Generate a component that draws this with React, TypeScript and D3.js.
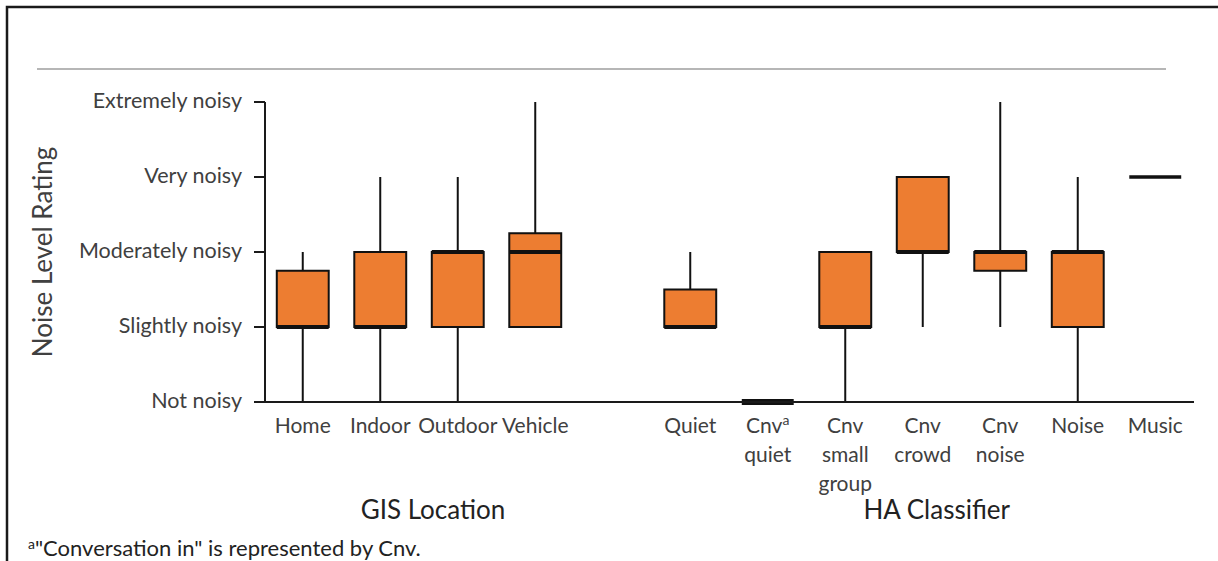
import React from "react";
import * as d3 from "d3";

// Y axis rating labels (0 = Not noisy ... 4 = Extremely noisy)
const ratingLabels = ["Not noisy", "Slightly noisy", "Moderately noisy", "Very noisy", "Extremely noisy"];

// Groups and categories
const gisCategories = ["Home", "Indoor", "Outdoor", "Vehicle"];
const haCategories = ["Quiet", "Cnv quiet", "Cnv small group", "Cnv crowd", "Cnv noise", "Noise", "Music"];
const groupNames = ["GIS Location", "HA Classifier"];

// Label lines for each category (superscript marked with ^)
const categoryLabelLines: string[][] = [
  ["Home"], ["Indoor"], ["Outdoor"], ["Vehicle"],
  ["Quiet"], ["Cnv^a", "quiet"], ["Cnv", "small", "group"], ["Cnv", "crowd"], ["Cnv", "noise"], ["Noise"], ["Music"],
];

// Box plot statistics (ratings), same order as gisCategories + haCategories
const catMin = [0, 0, 0, 1, 1, 0, 0, 1, 1, 0, 3];
const catQ1 = [1, 1, 1, 1, 1, 0, 1, 2, 1.75, 1, 3];
const catMedian = [1, 1, 2, 2, 1, 0, 1, 2, 2, 2, 3];
const catQ3 = [1.75, 2, 2, 2.25, 1.5, 0, 2, 3, 2, 2, 3];
const catMax = [2, 3, 3, 4, 2, 0, 2, 3, 4, 3, 3];

const footnote = "\"Conversation in\" is represented by Cnv.";
const yTitle = "Noise Level Rating";

const FONT = "Lato, 'Open Sans', sans-serif";
const ORANGE = "#ED7D31";
const TEXT = "#404040";

export default function App() {
  const W = 1218, H = 561;
  const allCats = [...gisCategories, "__gap__", ...haCategories];
  const dataCats = [...gisCategories, ...haCategories];
  const x = d3.scaleBand<string>().domain(allCats).range([264, 1194]).paddingInner(0.33).paddingOuter(0.165);
  const y = d3.scaleLinear().domain([0, 4]).range([402, 102]);
  const bw = x.bandwidth();
  const cx = (c: string) => (x(c) as number) + bw / 2;

  const groupCenter = (cats: string[]) => (cx(cats[0]) + cx(cats[cats.length - 1])) / 2 + 14;

  const renderLabel = (line: string) => {
    const idx = line.indexOf("^");
    if (idx < 0) return line;
    return (
      <>
        {line.slice(0, idx)}
        <tspan fontSize={14} dy={-8}>{line.slice(idx + 1)}</tspan>
      </>
    );
  };

  return (
    <svg width={W} height={H} style={{ position: "absolute", left: 0, top: 0, background: "#fff" }} fontFamily={FONT}>
      {/* frame */}
      <rect x={7} y={7} width={W + 20} height={H + 20} fill="none" stroke="#1a1a1a" strokeWidth={2.5} />
      {/* top rule */}
      <line x1={37} x2={1166} y1={69} y2={69} stroke="#6f6f6f" strokeWidth={1.2} />

      {/* y axis */}
      <line x1={265} x2={265} y1={y(4)} y2={y(0)} stroke="#1a1a1a" strokeWidth={2} />
      {ratingLabels.map((lab, i) => (
        <g key={lab}>
          <line x1={254} x2={265} y1={y(i)} y2={y(i)} stroke="#1a1a1a" strokeWidth={2} />
          <text x={242} y={y(i) - 2} dy="0.35em" textAnchor="end" fontSize={21.5} fill={TEXT}>{lab}</text>
        </g>
      ))}
      <text transform={`translate(52,${(y(0) + y(4)) / 2}) rotate(-90)`} textAnchor="middle" fontSize={26} fill={TEXT}>{yTitle}</text>

      {/* boxes */}
      {dataCats.map((c, i) => {
        const left = x(c) as number;
        const mid = cx(c);
        return (
          <g key={c}>
            {catMin[i] < catQ1[i] && (
              <line x1={mid} x2={mid} y1={y(catMin[i])} y2={y(catQ1[i])} stroke="#111" strokeWidth={2} />
            )}
            {catMax[i] > catQ3[i] && (
              <line x1={mid} x2={mid} y1={y(catMax[i])} y2={y(catQ3[i])} stroke="#111" strokeWidth={2} />
            )}
            {catQ3[i] > catQ1[i] && (
              <rect x={left} width={bw} y={y(catQ3[i])} height={y(catQ1[i]) - y(catQ3[i])} fill={ORANGE} stroke="#111" strokeWidth={2} />
            )}
            <line x1={left} x2={left + bw} y1={y(catMedian[i])} y2={y(catMedian[i])} stroke="#111" strokeWidth={catQ3[i] > catQ1[i] ? 4 : catMedian[i] === 0 ? 6 : 3.5} />
          </g>
        );
      })}

      {/* x axis */}
      <line x1={265} x2={1194} y1={y(0)} y2={y(0)} stroke="#1a1a1a" strokeWidth={2} />

      {/* category labels */}
      {dataCats.map((c, i) => (
        <text key={c} x={cx(c)} y={433} textAnchor="middle" fontSize={21} fill={TEXT}>
          {categoryLabelLines[i].map((ln, j) => (
            <tspan key={j} x={cx(c)} y={433 + j * 29}>{renderLabel(ln)}</tspan>
          ))}
        </text>
      ))}

      {/* group labels */}
      <text x={groupCenter(gisCategories)} y={519} textAnchor="middle" fontSize={26} fill="#222">{groupNames[0]}</text>
      <text x={groupCenter(haCategories)} y={519} textAnchor="middle" fontSize={26} fill="#222">{groupNames[1]}</text>

      {/* footnote */}
      <text x={28} y={556} fontSize={22} fill="#222">
        <tspan fontSize={14} dy={-7}>a</tspan>
        <tspan dy={7}>{footnote}</tspan>
      </text>
    </svg>
  );
}
